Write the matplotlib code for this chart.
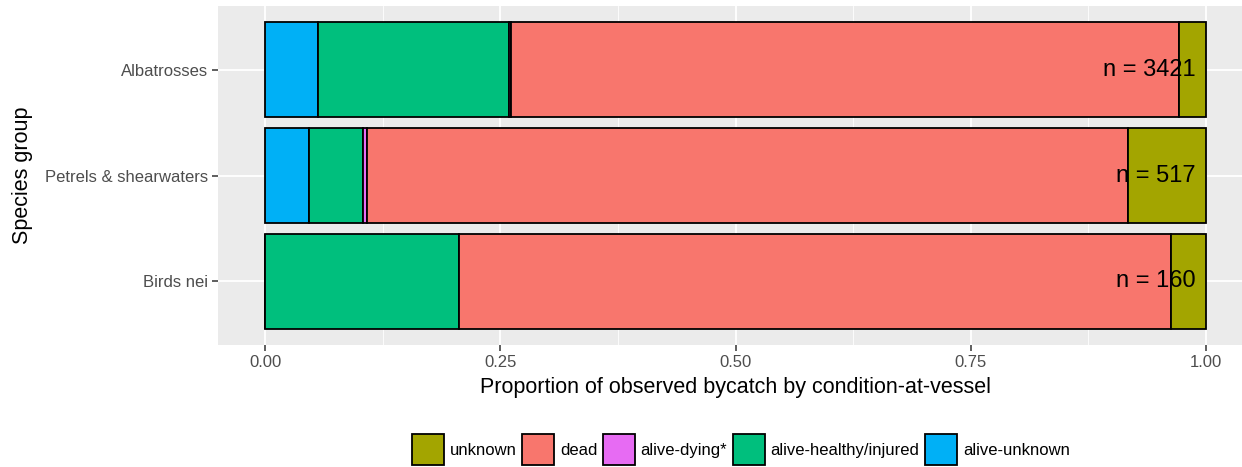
import matplotlib
matplotlib.use("Agg")
import matplotlib.pyplot as plt
import numpy as np
from matplotlib.patches import Patch

plt.rcParams["font.family"] = ["Liberation Sans", "DejaVu Sans"]

# ── Data (counts) ────────────────────────────────────────────────────────────
groups          = ["Albatrosses", "Petrels & shearwaters", "Birds nei"]
n_total         = [3421, 517, 160]
alive_unknown   = [194, 24, 0]
alive_healthy   = [692, 30, 33]
alive_dying     = [10, 2, 0]
dead            = [2428, 418, 121]
unknown         = [97, 43, 6]

conditions = ["alive-unknown", "alive-healthy/injured", "alive-dying*", "dead", "unknown"]
counts     = [alive_unknown, alive_healthy, alive_dying, dead, unknown]
colors     = ["#00B0F6", "#00BF7D", "#E76BF3", "#F8766D", "#A3A500"]

W, H = 1242, 467
fig = plt.figure(figsize=(W / 100, H / 100), dpi=100)
ax = fig.add_axes([218 / W, (H - 345) / H, (1253 - 218) / W, (345 - 6) / H])
ax.set_facecolor("#EBEBEB")

ypos = np.array([3, 2, 1])
tot = np.array(n_total, dtype=float)
left = np.zeros(3)
for name, vals, col in zip(conditions, counts, colors):
    frac = np.array(vals) / tot
    ax.barh(ypos, frac, left=left, height=0.9, color=col,
            edgecolor="black", linewidth=1.3, zorder=3)
    left += frac

for y, n in zip(ypos, n_total):
    ax.text(0.989, y, f"n = {n}", ha="right", va="center",
            fontsize=17, color="black", zorder=4)

ax.set_xlim(-0.05, 1.05)
ax.set_ylim(0.4, 3.6)
ax.set_xticks([0, 0.25, 0.5, 0.75, 1.0])
ax.set_xticklabels(["0.00", "0.25", "0.50", "0.75", "1.00"])
ax.set_xticks([0.125, 0.375, 0.625, 0.875], minor=True)
ax.set_yticks(ypos)
ax.set_yticklabels(groups)

ax.grid(True, which="major", color="white", lw=1.3, zorder=0)
ax.grid(True, which="minor", axis="x", color="white", lw=0.6, zorder=0)
ax.set_axisbelow(True)
for s in ax.spines.values():
    s.set_visible(False)
ax.tick_params(axis="both", which="major", length=4, width=1.1, color="#333333",
               labelcolor="#4D4D4D", labelsize=12, pad=3)
ax.tick_params(axis="x", which="minor", length=0)

ax.set_xlabel("Proportion of observed bycatch by condition-at-vessel",
              fontsize=15.5, labelpad=5)
ax.set_ylabel("Species group", fontsize=15.5, labelpad=9)

handles = [Patch(facecolor=c, edgecolor="black", linewidth=1.3)
           for c in colors[::-1]]
labels = conditions[::-1]
fig.legend(handles, labels, loc="center", bbox_to_anchor=(741 / W, 1 - 449.5 / H),
           ncol=5, frameon=False, fontsize=12, handlelength=1.9,
           handleheight=2.55, handletextpad=0.35, columnspacing=0.35,
           borderpad=0)

fig.savefig("out.png", dpi=100)
